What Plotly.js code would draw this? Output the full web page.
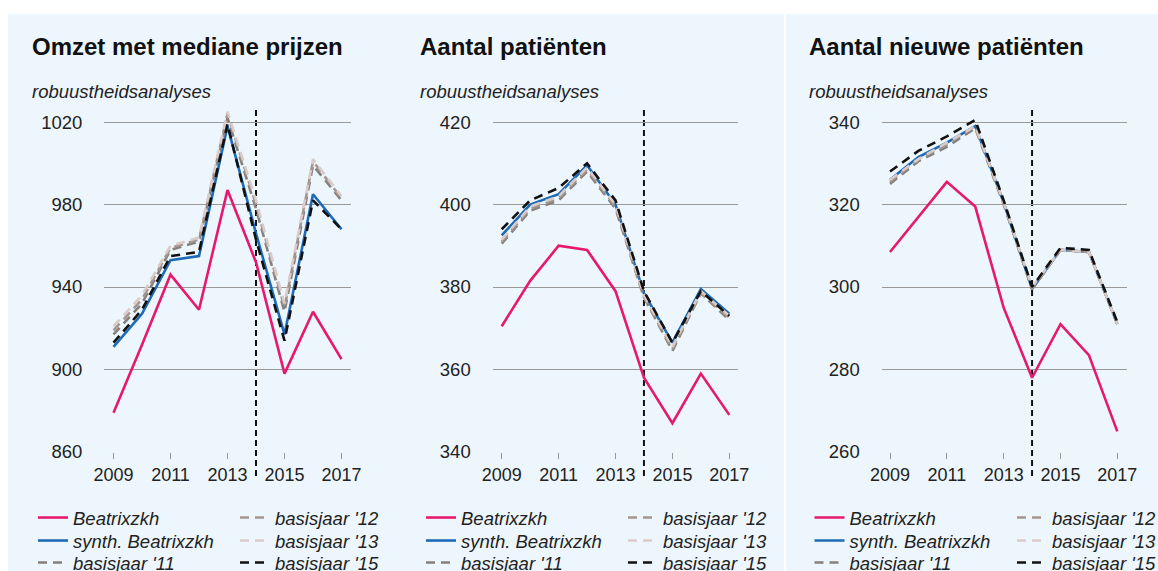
<!DOCTYPE html>
<html><head><meta charset="utf-8">
<script src="https://cdn.plot.ly/plotly-3.0.1.min.js"></script>
<style>html,body{margin:0;padding:0;background:#fff;overflow:hidden}</style>
</head><body><div id="chart" style="width:1158px;height:571px"></div>
<script>
// ---- data ----
const years = [2009, 2010, 2011, 2012, 2013, 2014, 2015, 2016, 2017];
const xTickYears = [2009, 2011, 2013, 2015, 2017];
const seriesNames = ["Beatrixzkh", "synth. Beatrixzkh", "basisjaar '11", "basisjaar '12", "basisjaar '13", "basisjaar '15"];
const panelTitles = ["Omzet met mediane prijzen", "Aantal patiënten", "Aantal nieuwe patiënten"];
const subtitleText = "robuustheidsanalyses";
const interventionYear = 2014;

// Panel 1: Omzet met mediane prijzen
const omzetBeatrix = [879, 912, 946, 929, 987, 952, 898, 928, 905];
const omzetSynth   = [911, 927, 953, 955, 1018, 966, 917, 985, 968];
const omzetB11     = [917, 932, 958, 962, 1022, 978, 928, 999, 982];
const omzetB12     = [919, 934, 959, 963, 1024, 980, 930, 1001, 983];
const omzetB13     = [921, 936, 960, 964, 1025, 982, 932, 1002, 984];
const omzetB15     = [913, 929, 955, 957, 1019, 963, 914, 982, 968];
const omzetTicks   = [860, 900, 940, 980, 1020];

// Panel 2: Aantal patiënten
const patBeatrix = [370.5, 381.5, 390, 389, 379, 358, 347, 359, 349];
const patSynth   = [392.5, 400, 402.5, 409.5, 400, 378.5, 366.5, 379.5, 373.5];
const patB11     = [390.5, 398.5, 401, 408, 399, 377.5, 364.5, 378.5, 372];
const patB12     = [391, 399, 401.5, 408.5, 399.5, 377.5, 365, 378.5, 372.5];
const patB13     = [391.5, 399.5, 402, 409, 400, 378, 365.5, 379, 373];
const patB15     = [394, 401, 404, 410, 401, 379, 366.5, 379, 373];
const patTicks   = [340, 360, 380, 400, 420];

// Panel 3: Aantal nieuwe patiënten
const nieuwBeatrix = [308.5, 317, 325.5, 319.5, 295, 278, 291, 283.5, 265];
const nieuwSynth   = [326, 331.5, 335, 339, 320.5, 299.5, 309, 308.5, 291];
const nieuwB11     = [325, 330.5, 334, 338.5, 320, 299.5, 309, 308.5, 291];
const nieuwB12     = [325.5, 331, 334.5, 339, 320.5, 299.5, 309, 308.5, 291];
const nieuwB13     = [326, 331, 335, 339, 320.5, 300, 309, 308.5, 291];
const nieuwB15     = [328, 333, 336.5, 340.5, 321, 300, 309.5, 309, 291.5];
const nieuwTicks   = [260, 280, 300, 320, 340];

// ---- styling ----
const W = 1158, H = 571;
const FONT = "Liberation Sans, Arial, Helvetica, sans-serif";
const colors = ["#e6196f", "#1d6ab6", "#85807c", "#a39690", "#dacbc8", "#111111"];
const dashes = ["solid", "solid", "9px,6px", "9px,6px", "9px,6px", "9px,6px"];
const widths = [2.6, 2.6, 2.6, 2.6, 2.6, 2.6];
const legendRowsPx = [518, 541, 563];

const panels = [
  {series: [omzetBeatrix, omzetSynth, omzetB11, omzetB12, omzetB13, omzetB15], ticks: omzetTicks,
   yrange: [860, 1030], xpx: [104.3, 350.7], x2009: 113.5, x2017: 341.5, left: 33, leg: [73, 275]},
  {series: [patBeatrix, patSynth, patB11, patB12, patB13, patB15], ticks: patTicks,
   yrange: [340, 425], xpx: [492.7, 738.3], x2009: 501.7, x2017: 729.3, left: 421, leg: [461, 663]},
  {series: [nieuwBeatrix, nieuwSynth, nieuwB11, nieuwB12, nieuwB13, nieuwB15], ticks: nieuwTicks,
   yrange: [260, 345], xpx: [881.7, 1126.7], x2009: 890, x2017: 1117.3, left: 810, leg: [849.5, 1052]}
];

const yTopPx = 101.4, yBotPx = 452;
const traces = [];
const layout = {
  width: W, height: H,
  margin: {l: 0, r: 0, t: 0, b: 0, autoexpand: false},
  paper_bgcolor: "#edf6fc",
  plot_bgcolor: "rgba(0,0,0,0)",
  font: {family: FONT, size: 18, color: "#222"},
  showlegend: true,
  annotations: [],
  shapes: [
    {type: "rect", xref: "paper", yref: "paper", x0: -0.01, x1: 1.01, y0: 1 - 14 / H, y1: 1.01,
     fillcolor: "#ffffff", line: {width: 0}, layer: "below"},
    {type: "rect", xref: "paper", yref: "paper", x0: -0.01, x1: 8 / W, y0: -0.01, y1: 1.01,
     fillcolor: "#ffffff", line: {width: 0}, layer: "below"},
    {type: "line", xref: "paper", yref: "paper", x0: 785 / W, x1: 785 / W, y0: -0.01, y1: 1.01,
     line: {color: "#ffffff", width: 2}, layer: "below"}
  ]
};

let legendCount = 0;
panels.forEach((p, i) => {
  const sfx = i === 0 ? "" : String(i + 1);
  const pxPerYear = (p.x2017 - p.x2009) / 8;
  const xr = [2009 - (p.x2009 - p.xpx[0]) / pxPerYear, 2017 + (p.xpx[1] - p.x2017) / pxPerYear];
  layout["xaxis" + sfx] = {
    domain: [p.xpx[0] / W, p.xpx[1] / W], range: xr, anchor: "y" + sfx,
    showgrid: false, zeroline: false, showline: false,
    tickmode: "array", tickvals: xTickYears, ticktext: xTickYears.map(String),
    ticks: "outside", ticklen: 6, tickwidth: 1, tickcolor: "#9a9a9a",
    tickfont: {family: FONT, size: 18, color: "#222"}, fixedrange: true
  };
  layout["yaxis" + sfx] = {
    domain: [1 - yBotPx / H, 1 - yTopPx / H], range: p.yrange, anchor: "x" + sfx,
    showgrid: true, gridcolor: "#9a9a9a", gridwidth: 1, zeroline: false, showline: false,
    tickmode: "array", tickvals: p.ticks, ticktext: p.ticks.map(String),
    ticks: "", ticklabelstandoff: 21,
    tickfont: {family: FONT, size: 18.5, color: "#222"}, fixedrange: true
  };
  p.series.forEach((vals, k) => {
    legendCount += 1;
    const legName = legendCount === 1 ? "legend" : "legend" + legendCount;
    const col = k < 3 ? 0 : 1;
    const row = k % 3;
    layout[legName] = {
      bgcolor: "rgba(0,0,0,0)", borderwidth: 0, orientation: "v",
      xanchor: "left", yanchor: "middle",
      x: (p.leg[col] - 40) / W, y: 1 - legendRowsPx[row] / H,
      font: {family: FONT, size: 18.5, color: "#222", style: "italic"}
    };
    traces.push({
      type: "scatter", mode: "lines", x: years, y: vals, name: seriesNames[k],
      xaxis: "x" + sfx, yaxis: "y" + sfx,
      line: {color: colors[k], width: widths[k], dash: dashes[k]},
      legend: legName, hoverinfo: "skip"
    });
  });
  layout.annotations.push({
    xref: "paper", yref: "paper", x: (p.left - 3) / W, y: 1 - 46 / H, xanchor: "left", yanchor: "middle",
    text: "<b>" + panelTitles[i] + "</b>", showarrow: false,
    font: {family: FONT, size: 24, color: "#111"}
  });
  layout.annotations.push({
    xref: "paper", yref: "paper", x: (p.left - 3) / W, y: 1 - 92 / H, xanchor: "left", yanchor: "middle",
    text: subtitleText, showarrow: false,
    font: {family: FONT, size: 18.5, color: "#222", style: "italic"}
  });
  layout.shapes.push({
    type: "line", xref: "x" + sfx, yref: "paper", x0: interventionYear, x1: interventionYear,
    y0: 1 - 476 / H, y1: 1 - 108 / H, line: {color: "#111", width: 2, dash: "6px,4px"}, layer: "between"
  });
});

Plotly.newPlot("chart", traces, layout, {staticPlot: true, displayModeBar: false});
</script>
</body></html>
